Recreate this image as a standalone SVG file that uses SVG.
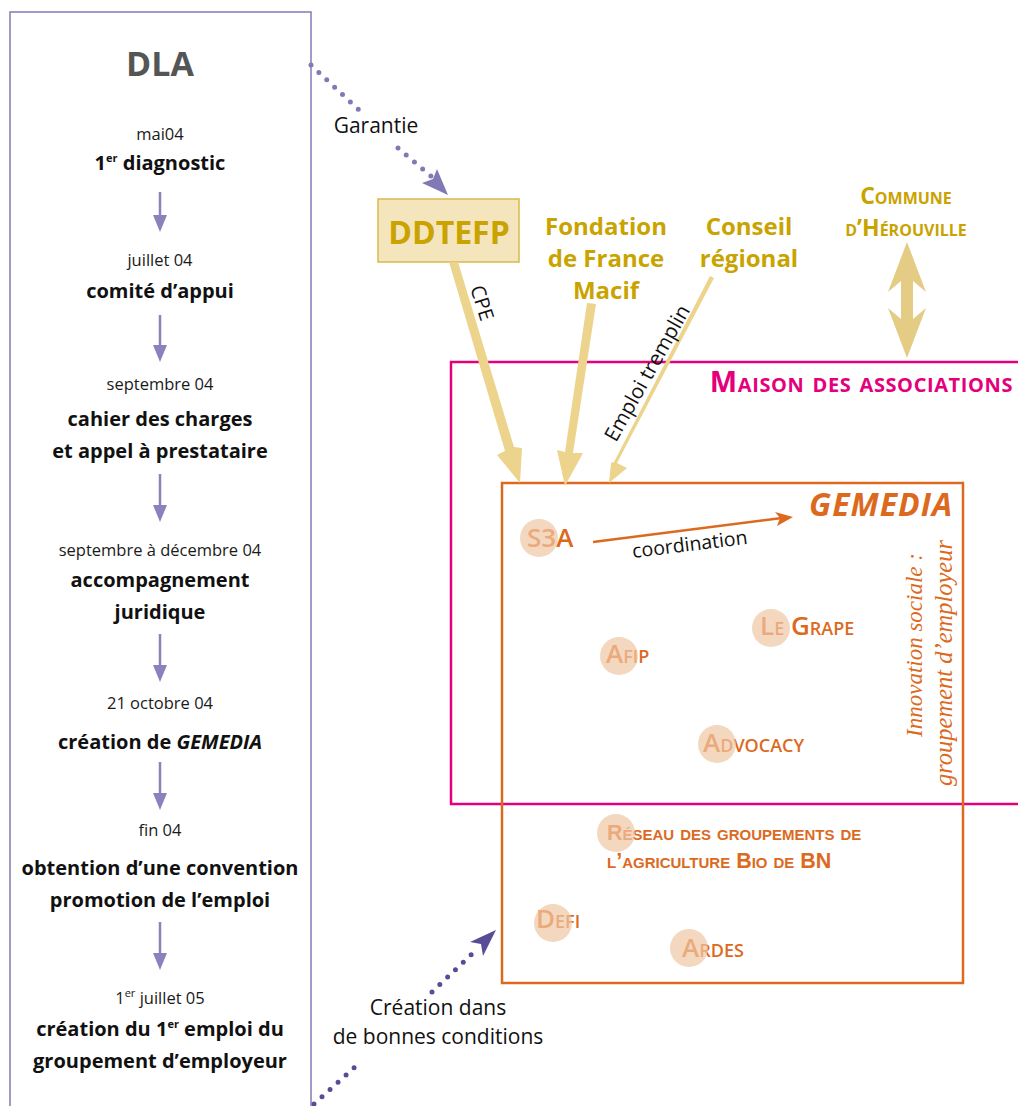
<svg xmlns="http://www.w3.org/2000/svg" width="1018" height="1106" viewBox="0 0 1018 1106">
<style>
text{font-family:"Open Sans","Noto Sans","DejaVu Sans",sans-serif}
.date{font-size:16.5px;fill:#1a1a1a;text-anchor:middle}
.step{font-size:20px;font-weight:700;fill:#111;text-anchor:middle}
.sup{font-size:11px}
.fund{font-size:24px;font-weight:700;fill:#c9a300;text-anchor:middle}
.lab{font-size:21px;fill:#111}
.org{font-size:26px;font-weight:600;fill:#dc6a1e;font-variant:small-caps}
.org2{font-size:21.5px;font-family:"Liberation Sans","Arimo",sans-serif}
.dot{fill:none;stroke-linecap:round;stroke-width:5;stroke-dasharray:0 10.8}
.tan{fill:#ecd48c}
.circ{fill:#f0c6a4;opacity:0.7}
</style>

<g id="dla">
<rect x="10" y="12" width="301" height="1110" fill="none" stroke="#8a82bb" stroke-width="1.6"/>
<text x="160" y="76" text-anchor="middle" font-size="34" font-weight="700" fill="#555">DLA</text>
<text class="date" x="160" y="140">mai04</text>
<text class="step" x="160" y="170">1<tspan class="sup" dy="-8">er</tspan><tspan dy="8"> diagnostic</tspan></text>
<text class="date" x="160" y="266">juillet 04</text>
<text class="step" x="160" y="298">comité d’appui</text>
<text class="date" x="160" y="390">septembre  04</text>
<text class="step" x="160" y="426">cahier des charges</text>
<text class="step" x="160" y="458">et appel à prestataire</text>
<text class="date" x="160" y="556">septembre à décembre 04</text>
<text class="step" x="160" y="587">accompagnement</text>
<text class="step" x="160" y="619">juridique</text>
<text class="date" x="160" y="709">21 octobre 04</text>
<text class="step" x="160" y="749">création de <tspan font-style="italic">GEMEDIA</tspan></text>
<text class="date" x="160" y="836">fin 04</text>
<text class="step" x="160" y="875">obtention d’une convention</text>
<text class="step" x="160" y="907">promotion de l’emploi</text>
<text class="date" x="160" y="1004">1<tspan class="sup" dy="-7">er</tspan><tspan dy="7"> juillet 05</tspan></text>
<text class="step" x="160" y="1036">création du 1<tspan class="sup" dy="-8">er</tspan><tspan dy="8"> emploi du</tspan></text>
<text class="step" x="160" y="1068">groupement d’employeur</text>
</g>

<g id="dla-arrows" fill="#8a82bb" stroke="#8a82bb">
<line x1="160" y1="192" x2="160" y2="216" stroke-width="2.5"/><polygon points="153,215 167,215 160,232" stroke="none"/>
<line x1="160" y1="315" x2="160" y2="346" stroke-width="2.5"/><polygon points="153,345 167,345 160,362" stroke="none"/>
<line x1="160" y1="474" x2="160" y2="506" stroke-width="2.5"/><polygon points="153,505 167,505 160,522" stroke="none"/>
<line x1="160" y1="634" x2="160" y2="666" stroke-width="2.5"/><polygon points="153,665 167,665 160,682" stroke="none"/>
<line x1="160" y1="762" x2="160" y2="794" stroke-width="2.5"/><polygon points="153,793 167,793 160,810" stroke="none"/>
<line x1="160" y1="922" x2="160" y2="954" stroke-width="2.5"/><polygon points="153,953 167,953 160,970" stroke="none"/>
</g>

<g id="ddtefp">
<rect x="378" y="199" width="141" height="63" fill="#f5e5bc" stroke="#d9b94c" stroke-width="1.5"/>
<text x="449" y="244" text-anchor="middle" font-size="32" font-weight="700" fill="#c9a300">DDTEFP</text>
</g>
<g id="fondation">
<text class="fund" x="606" y="235">Fondation</text>
<text class="fund" x="606" y="267">de France</text>
<text class="fund" x="606" y="299">Macif</text>
</g>
<g id="conseil">
<text class="fund" x="749" y="235">Conseil</text>
<text class="fund" x="749" y="267">régional</text>
</g>
<g id="commune">
<text x="906" y="204" text-anchor="middle" font-size="23" font-weight="700" fill="#c9a300" font-variant="small-caps">Commune</text>
<text x="906" y="236" text-anchor="middle" font-size="23" font-weight="700" fill="#c9a300" font-variant="small-caps">d’Hérouville</text>
</g>

<g id="maison">
<rect x="451" y="362" width="600" height="442" fill="none" stroke="#e4007c" stroke-width="2.5"/>
<text x="1013" y="392" text-anchor="end" font-size="29" font-weight="700" fill="#e4007c" font-variant="small-caps" letter-spacing="0.6">Maison des associations</text>
</g>

<g id="gemedia">
<rect x="502" y="483" width="461" height="500" fill="none" stroke="#dc6a1e" stroke-width="2.5"/>
<text x="953" y="516" text-anchor="end" font-size="32" font-weight="700" font-style="italic" fill="#dc6a1e" letter-spacing="1">GEMEDIA</text>
<text transform="translate(922,645) rotate(-90)" text-anchor="middle" font-style="italic" font-size="23" fill="#dc6a1e" style="font-family:'Liberation Serif',serif">Innovation sociale :</text>
<text transform="translate(952,663) rotate(-90)" text-anchor="middle" font-size="24.5" font-style="italic" fill="#dc6a1e" style="font-family:'Liberation Serif',serif">groupement d’employeur</text>
</g>

<g id="s3a"><text class="org" x="527" y="547">S3A</text><circle class="circ" cx="539" cy="538" r="19"/></g>
<g id="legrape"><text class="org" x="760" y="635">Le Grape</text><circle class="circ" cx="771" cy="628" r="19"/></g>
<g id="afip"><text class="org" x="606" y="663">Afip</text><circle class="circ" cx="619" cy="656" r="19"/></g>
<g id="advocacy"><text class="org" x="703" y="752">Advocacy</text><circle class="circ" cx="717" cy="744" r="19"/></g>
<g id="reseau"><text class="org org2" x="607" y="840">Réseau des groupements de</text><text class="org org2" x="607" y="868">l’agriculture Bio de BN</text><circle class="circ" cx="616" cy="833" r="19"/></g>
<g id="defi"><text class="org" x="536" y="928">Defi</text><circle class="circ" cx="553" cy="923" r="19"/></g>
<g id="ardes"><text class="org" x="682" y="957">Ardes</text><circle class="circ" cx="689" cy="948" r="19"/></g>

<g id="connectors">
<line class="dot" x1="311" y1="65" x2="360" y2="111" stroke="#8079b5"/>
<line class="dot" x1="398" y1="148" x2="432" y2="177" stroke="#8079b5"/>
<polygon points="448,195 422,183 433,179 437,169" fill="#8079b5"/>
<text class="lab" x="376" y="133" text-anchor="middle">Garantie</text>
<line class="dot" x1="314" y1="1104" x2="355" y2="1067" stroke="#574c95"/>
<line class="dot" x1="432" y1="992" x2="474" y2="952" stroke="#574c95"/>
<polygon points="496,930 470,942 481,944 483,956" fill="#574c95"/>
<text class="lab" x="438" y="1015" text-anchor="middle">Création dans</text>
<text class="lab" x="438" y="1044" text-anchor="middle">de bonnes conditions</text>
<polygon class="tan" points="449,262 458,262 514,447 522,448 520,483 497,455 505,451"/>
<text class="lab" transform="translate(470,288) rotate(72)" style="font-size:20px">CPE</text>
<polygon class="tan" points="587,303 596,304 573,453 583,453 565,486 557,450 565,452"/>
<polygon class="tan" points="710,276 714,278 617,463 627,468 609,483 611,463 614,462"/>
<text class="lab" transform="translate(616,443) rotate(-60.7)" style="font-size:20.5px">Emploi tremplin</text>
<polygon fill="#e5cc85" points="907,242 926,292 913,281 913,319 926,308 907,358 888,308 901,319 901,281 888,292"/>
<line x1="593" y1="542" x2="782" y2="518" stroke="#dc6a1e" stroke-width="2.5"/>
<polygon points="793,517 775,512 780,518 777,526" fill="#dc6a1e"/>
<text class="lab" transform="translate(633,558) rotate(-7)" style="font-size:19.5px">coordination</text>
</g>
</svg>
